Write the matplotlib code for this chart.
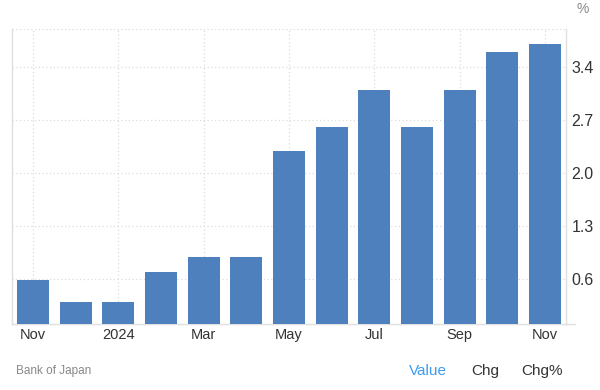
import matplotlib.pyplot as plt

plt.rcParams['font.family'] = ['Liberation Sans', 'DejaVu Sans']

# Data (monthly, Nov 2023 - Nov 2024)
months = ['Nov', 'Dec', 'Jan', 'Feb', 'Mar', 'Apr', 'May', 'Jun',
          'Jul', 'Aug', 'Sep', 'Oct', 'Nov']
values = [0.58, 0.29, 0.29, 0.69, 0.89, 0.89, 2.29, 2.6,
          3.09, 2.6, 3.09, 3.59, 3.7]
tick_idx = [0, 2, 4, 6, 8, 10, 12]
tick_labels = ['Nov', '2024', 'Mar', 'May', 'Jul', 'Sep', 'Nov']
y_ticks = [0.6, 1.3, 2.0, 2.7, 3.4]

bar_color = '#4d80bc'
grid_color = '#dcdcdc'
spine_color = '#e0e0e0'

fig = plt.figure(figsize=(6, 3.9), dpi=100)
ax = fig.add_axes([0.02, 1 - 324 / 390, 0.923, (324 - 29) / 390])

x = list(range(len(values)))
ax.bar(x, values, width=0.75, color=bar_color, zorder=3)

ax.set_xlim(-0.49, 12.49)
ax.set_ylim(0, 3.9)

ax.set_xticks(tick_idx)
ax.set_xticklabels(tick_labels, fontsize=10.5, color='#333333')
ax.set_yticks(y_ticks)
ax.set_yticklabels(['%.1f' % v for v in y_ticks], fontsize=11.5, color='#333333')
ax.yaxis.tick_right()
ax.tick_params(axis='both', length=0)
ax.tick_params(axis='x', pad=3)
ax.tick_params(axis='y', pad=4)

# dotted grid, incl. the top line
ax.grid(True, color=grid_color, linestyle=(0, (1, 2)), linewidth=0.9, zorder=0)
ax.axhline(3.9, color=grid_color, linestyle=(0, (1, 2)), linewidth=0.9, zorder=0)

ax.spines['top'].set_visible(False)
for s in ['left', 'right', 'bottom']:
    ax.spines[s].set_color(spine_color)
    ax.spines[s].set_linewidth(1)
# baseline extends a bit past the right axis
ax.plot([12.49, 12.7], [0, 0], color=spine_color, lw=1, clip_on=False)

fig.text(583 / 600, 1 - 9 / 390, '%', fontsize=10, color='#888888', ha='center', va='center')
fig.text(16 / 600, 1 - 371 / 390, 'Bank of Japan', fontsize=8.5, color='#888888', va='center')
fig.text(428 / 600, 1 - 371 / 390, 'Value', fontsize=11, color='#3d9bf2', ha='center', va='center')
fig.text(485 / 600, 1 - 371 / 390, 'Chg', fontsize=11, color='#333333', ha='center', va='center')
fig.text(542 / 600, 1 - 371 / 390, 'Chg%', fontsize=11, color='#333333', ha='center', va='center')

fig.savefig('out.png', dpi=100)
